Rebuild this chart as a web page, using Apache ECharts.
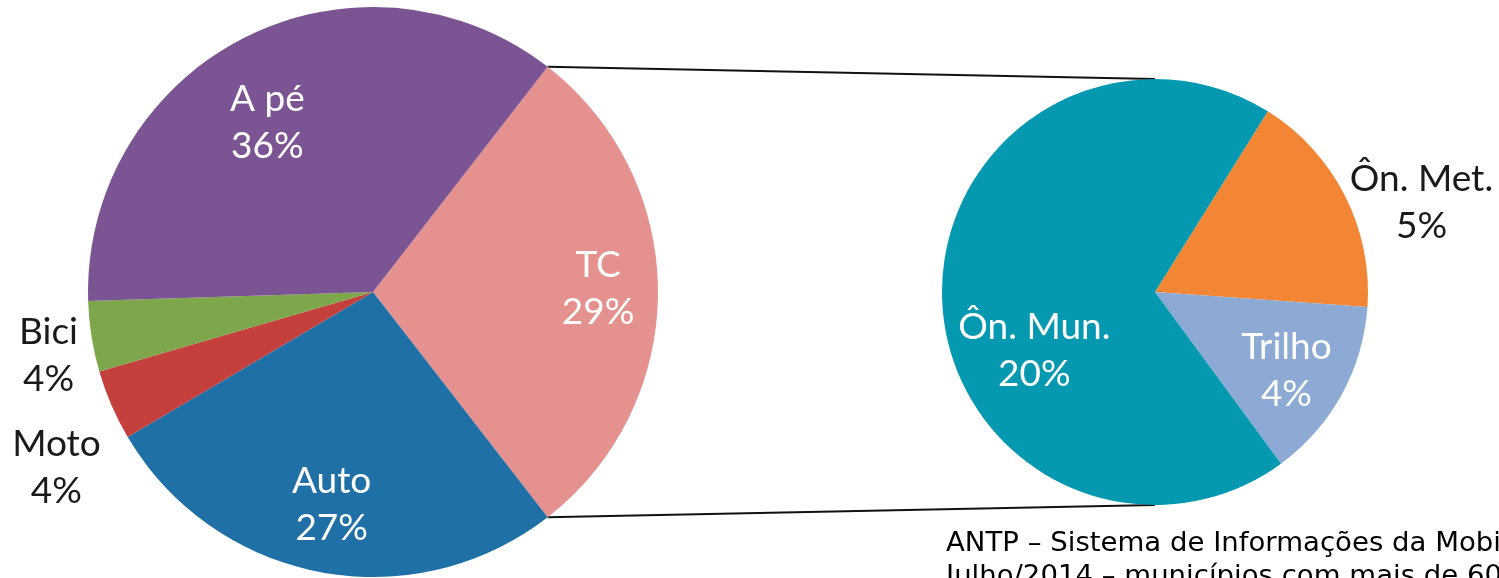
<!DOCTYPE html>
<html>
<head>
<meta charset="utf-8">
<style>
  html, body { margin: 0; padding: 0; background: #fff; }
  #chart { width: 1499px; height: 578px; }
</style>
<script src="https://cdn.jsdelivr.net/npm/echarts@6/dist/echarts.min.js"></script>
</head>
<body>
<div id="chart"></div>
<script>
// dados - divisão modal (ANTP 2014)
const modais = ['TC', 'Auto', 'Moto', 'Bici', 'A pé'];
const modaisPct = [29, 27, 4, 4, 36];
const modaisCores = ['#e5918f', '#1f70a7', '#c4403c', '#7ea64a', '#7b5593'];

const tcTipos = ['Ôn. Met.', 'Trilho', 'Ôn. Mun.'];
const tcPct = [5, 4, 20];
const tcCores = ['#f38634', '#8caad3', '#0499b1'];

// label placement: [fraction of radius, angle in degrees from 3 o'clock, ccw]
const spotsLeft = [[0.79, 1], [0.76, -101], [1.27, -151], [1.16, -169], [0.70, 122]];
const spotsRight = [[1.32, 18.6], [0.72, -31], [0.63, -154]];
const insideLeft = [true, true, false, false, true];
const insideRight = [false, true, true];

const fonte = 'ANTP – Sistema de Informações da Mobilidade Urbana\nJulho/2014 – municípios com mais de 60 mil habitantes';

const left = { cx: 373, cy: 292, r: 285, start: 52.2 };
const right = { cx: 1155, cy: 292, r: 213, start: 58 };

const chart = echarts.init(document.getElementById('chart'));

function place(pie, spots) {
    return function (params) {
        const s = spots[params.dataIndex];
        const a = s[1] * Math.PI / 180;
        return {
            x: pie.cx + s[0] * pie.r * Math.cos(a),
            y: pie.cy - s[0] * pie.r * Math.sin(a),
            align: 'center',
            verticalAlign: 'middle',
            hideOverlap: false,
            moveOverlap: null
        };
    };
}

function makeData(names, vals, cores, inside) {
    return names.map((n, i) => ({
        name: n,
        value: vals[i],
        itemStyle: { color: cores[i] },
        label: { color: inside[i] ? '#ffffff' : '#1a1a1a' }
    }));
}

// connector lines: ends of the TC slice to the top/bottom of the second pie
const tcHalf = modaisPct[0] / 2 / 100 * 2 * Math.PI;
const midTC = (left.start * Math.PI / 180) - tcHalf;
const a1 = midTC + tcHalf, a2 = midTC - tcHalf;
const p1 = [left.cx + left.r * Math.cos(a1), left.cy - left.r * Math.sin(a1)];
const p2 = [left.cx + left.r * Math.cos(a2), left.cy - left.r * Math.sin(a2)];

const labelBase = {
    show: true,
    position: 'inside',
    overflow: 'none',
    formatter: '{b}\n{c}%',
    fontFamily: 'Lato',
    fontSize: 37,
    lineHeight: 47
};

const option = {
    backgroundColor: '#ffffff',
    animation: false,
    graphic: [
        {
            type: 'line', z: 0,
            shape: { x1: p1[0], y1: p1[1], x2: right.cx, y2: right.cy - right.r },
            style: { stroke: '#111', lineWidth: 2 }
        },
        {
            type: 'line', z: 0,
            shape: { x1: p2[0], y1: p2[1], x2: right.cx, y2: right.cy + right.r },
            style: { stroke: '#111', lineWidth: 2 }
        },
        {
            type: 'text', x: 946, y: 528, z: 10,
            scaleX: 1.06,
            style: {
                text: fonte,
                font: '26px "DejaVu Sans"',
                lineHeight: 33,
                fill: '#000'
            }
        }
    ],
    series: [
        {
            type: 'pie',
            center: [left.cx, left.cy],
            radius: left.r,
            startAngle: left.start,
            clockwise: true,
            avoidLabelOverlap: false,
            z: 2,
            label: labelBase,
            labelLine: { show: false },
            labelLayout: place(left, spotsLeft),
            emphasis: { disabled: true },
            data: makeData(modais, modaisPct, modaisCores, insideLeft)
        },
        {
            type: 'pie',
            center: [right.cx, right.cy],
            radius: right.r,
            startAngle: right.start,
            clockwise: true,
            avoidLabelOverlap: false,
            z: 2,
            label: labelBase,
            labelLine: { show: false },
            labelLayout: place(right, spotsRight),
            emphasis: { disabled: true },
            data: makeData(tcTipos, tcPct, tcCores, insideRight)
        }
    ]
};

chart.setOption(option);
</script>
</body>
</html>
